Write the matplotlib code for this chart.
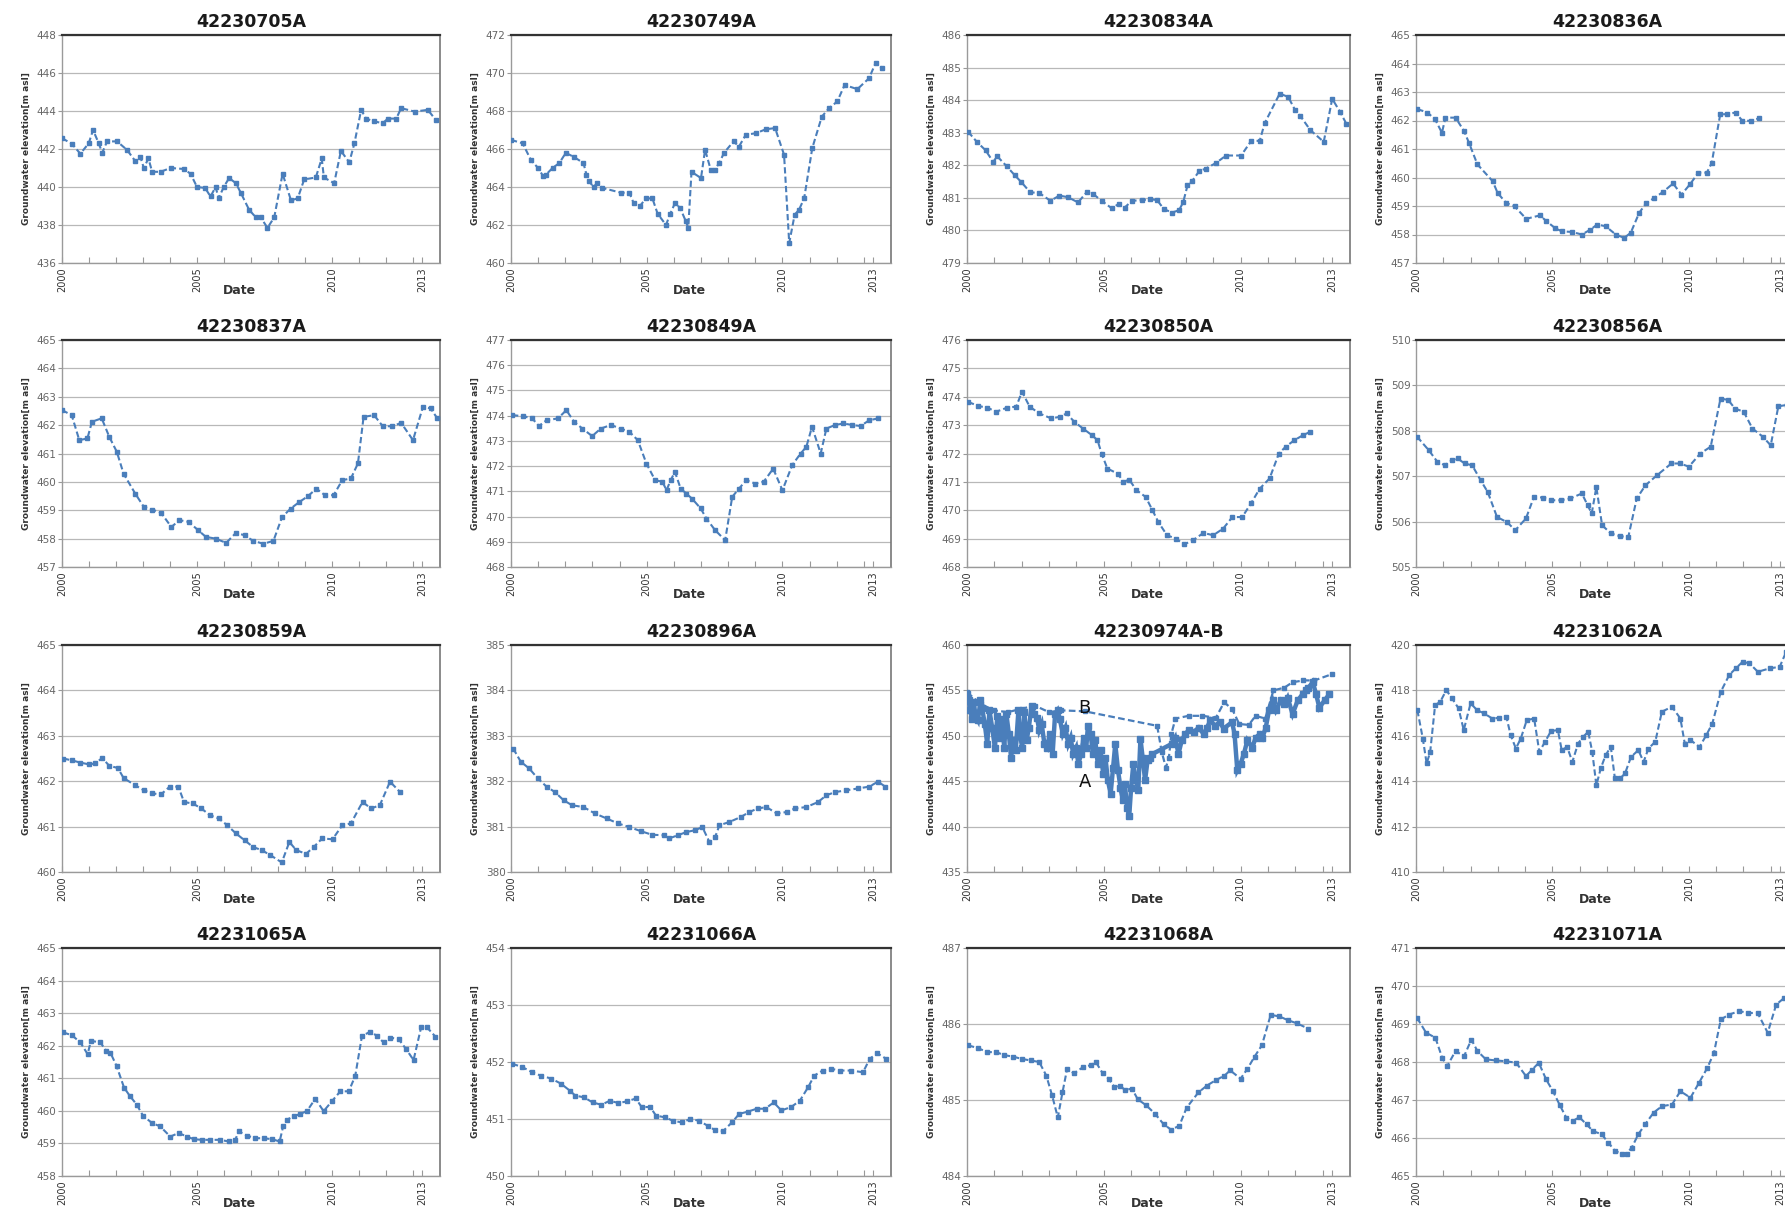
import matplotlib
matplotlib.use("Agg")
import matplotlib.pyplot as plt
from matplotlib.ticker import MultipleLocator, FixedLocator

# ---------------- data (decimal year, groundwater elevation m asl) ----------------
titles = ["42230705A", "42230749A", "42230834A", "42230836A",
          "42230837A", "42230849A", "42230850A", "42230856A",
          "42230859A", "42230896A", "42230974A-B", "42231062A",
          "42231065A", "42231066A", "42231068A", "42231071A"]

t_705 = [2000.0, 2000.37, 2000.68, 2000.99, 2001.15, 2001.36, 2001.49, 2001.67, 2002.04, 2002.41, 2002.72, 2002.9,
         2003.03, 2003.2, 2003.34, 2003.65, 2004.02, 2004.5, 2004.76, 2005.0, 2005.3, 2005.5, 2005.69, 2005.8, 2005.99,
         2006.19, 2006.44, 2006.62, 2006.93, 2007.18, 2007.36, 2007.61, 2007.86, 2008.17, 2008.48, 2008.73, 2008.97,
         2009.4, 2009.62, 2009.7, 2010.08, 2010.33, 2010.64, 2010.83, 2011.08, 2011.26, 2011.57, 2011.88, 2012.07,
         2012.38, 2012.56, 2013.06, 2013.55, 2013.86]
h_705 = [442.57, 442.27, 441.75, 442.3, 443.0, 442.3, 441.8, 442.4, 442.4, 441.95, 441.35, 441.6, 441.0, 441.5, 440.8,
         440.8, 441.0, 440.95, 440.7, 440.0, 439.95, 439.5, 440.0, 439.4, 440.0, 440.47, 440.2, 439.7, 438.8, 438.4,
         438.4, 437.85, 438.4, 440.7, 439.3, 439.4, 440.4, 440.5, 441.5, 440.5, 440.2, 441.9, 441.3, 442.3, 444.06,
         443.6, 443.45, 443.36, 443.6, 443.6, 444.15, 443.97, 444.06, 443.5]

t_749 = [2000.0, 2000.43, 2000.74, 2001.0, 2001.17, 2001.29, 2001.53, 2001.78, 2002.02, 2002.33, 2002.67, 2002.78,
         2002.88, 2003.04, 2003.17, 2003.37, 2004.05, 2004.36, 2004.52, 2004.75, 2004.97, 2005.21, 2005.4, 2005.71,
         2005.87, 2006.04, 2006.23, 2006.44, 2006.53, 2006.65, 2007.0, 2007.15, 2007.36, 2007.5, 2007.67, 2007.85,
         2008.2, 2008.4, 2008.65, 2009.02, 2009.39, 2009.73, 2010.06, 2010.25, 2010.45, 2010.61, 2010.8, 2011.1,
         2011.45, 2011.72, 2012.02, 2012.29, 2012.76, 2013.19, 2013.44, 2013.68]
h_749 = [466.48, 466.3, 465.4, 465.0, 464.6, 464.65, 465.0, 465.26, 465.8, 465.57, 465.26, 464.65, 464.3, 464.0, 464.2,
         463.95, 463.7, 463.7, 463.15, 463.0, 463.4, 463.4, 462.6, 462.0, 462.6, 463.15, 462.9, 462.2, 461.85, 464.8,
         464.47, 465.96, 464.9, 464.9, 465.26, 465.8, 466.4, 466.13, 466.75, 466.83, 467.04, 467.1, 465.7, 461.05,
         462.54, 462.8, 463.4, 466.05, 467.7, 468.15, 468.5, 469.37, 469.15, 469.72, 470.55, 470.25]

t_834 = [2000.04, 2000.36, 2000.68, 2000.96, 2001.1, 2001.45, 2001.75, 2001.99, 2002.31, 2002.64, 2003.05, 2003.38,
         2003.69, 2004.06, 2004.37, 2004.61, 2004.92, 2005.29, 2005.54, 2005.76, 2006.03, 2006.4, 2006.7, 2006.95,
         2007.2, 2007.5, 2007.75, 2007.9, 2008.06, 2008.24, 2008.49, 2008.73, 2009.1, 2009.47, 2010.02, 2010.39,
         2010.7, 2010.88, 2011.43, 2011.74, 2011.99, 2012.18, 2012.55, 2013.04, 2013.35, 2013.63, 2013.87]
h_834 = [483.03, 482.72, 482.46, 482.1, 482.28, 481.97, 481.69, 481.48, 481.17, 481.15, 480.91, 481.07, 481.02, 480.86,
         481.17, 481.12, 480.91, 480.68, 480.81, 480.7, 480.91, 480.93, 480.96, 480.93, 480.65, 480.55, 480.62, 480.86,
         481.38, 481.53, 481.82, 481.9, 482.07, 482.3, 482.3, 482.75, 482.75, 483.29, 484.2, 484.1, 483.7, 483.52,
         483.08, 482.72, 484.04, 483.65, 483.27]

t_836 = [2000.05, 2000.42, 2000.7, 2000.95, 2001.08, 2001.45, 2001.76, 2001.94, 2002.25, 2002.81, 2002.99, 2003.3,
         2003.61, 2004.04, 2004.54, 2004.78, 2005.09, 2005.34, 2005.71, 2006.08, 2006.39, 2006.64, 2006.95, 2007.32,
         2007.63, 2007.87, 2008.18, 2008.43, 2008.74, 2009.05, 2009.42, 2009.73, 2010.04, 2010.35, 2010.66, 2010.84,
         2011.15, 2011.4, 2011.71, 2011.96, 2012.27, 2012.58]
h_836 = [462.4, 462.28, 462.04, 461.57, 462.1, 462.1, 461.63, 461.22, 460.46, 459.87, 459.46, 459.11, 458.99, 458.55,
         458.67, 458.47, 458.23, 458.11, 458.09, 458.0, 458.17, 458.35, 458.29, 458.0, 457.88, 458.06, 458.76, 459.09,
         459.29, 459.49, 459.79, 459.4, 459.76, 460.17, 460.17, 460.52, 462.22, 462.22, 462.28, 461.99, 461.99, 462.08]

t_837 = [2000.0, 2000.36, 2000.64, 2000.94, 2001.11, 2001.47, 2001.75, 2002.03, 2002.28, 2002.71, 2003.03, 2003.35,
         2003.67, 2004.05, 2004.35, 2004.69, 2005.05, 2005.33, 2005.69, 2006.08, 2006.44, 2006.76, 2007.08, 2007.46,
         2007.83, 2008.15, 2008.47, 2008.79, 2009.1, 2009.42, 2009.74, 2010.06, 2010.38, 2010.7, 2010.96, 2011.17,
         2011.56, 2011.88, 2012.24, 2012.56, 2013.0, 2013.37, 2013.65, 2013.9]
h_837 = [462.53, 462.35, 461.47, 461.53, 462.12, 462.24, 461.59, 461.06, 460.29, 459.59, 459.12, 459.02, 458.91, 458.41,
         458.65, 458.59, 458.29, 458.06, 458.0, 457.85, 458.2, 458.12, 457.92, 457.82, 457.92, 458.76, 459.06, 459.29,
         459.49, 459.76, 459.53, 459.53, 460.06, 460.12, 460.65, 462.29, 462.35, 461.96, 461.96, 462.08, 461.47,
         462.65, 462.59, 462.24]

t_849 = [2000.04, 2000.46, 2000.78, 2001.03, 2001.31, 2001.73, 2002.04, 2002.32, 2002.63, 2002.99, 2003.31, 2003.68,
         2004.04, 2004.36, 2004.67, 2004.99, 2005.31, 2005.58, 2005.73, 2005.88, 2006.04, 2006.25, 2006.46, 2006.67,
         2006.99, 2007.2, 2007.52, 2007.89, 2008.15, 2008.4, 2008.67, 2008.99, 2009.31, 2009.66, 2010.0, 2010.36,
         2010.67, 2010.88, 2011.09, 2011.41, 2011.62, 2011.94, 2012.25, 2012.57, 2012.88, 2013.2, 2013.52]
h_849 = [474.02, 473.98, 473.89, 473.59, 473.82, 473.89, 474.22, 473.76, 473.49, 473.19, 473.49, 473.63, 473.49, 473.36,
         473.03, 472.1, 471.44, 471.38, 471.04, 471.44, 471.77, 471.11, 470.91, 470.71, 470.32, 469.92, 469.46, 469.06,
         470.78, 471.11, 471.44, 471.31, 471.38, 471.9, 471.04, 472.04, 472.5, 472.76, 473.56, 472.5, 473.49, 473.63,
         473.69, 473.63, 473.59, 473.82, 473.89]

t_850 = [2000.04, 2000.42, 2000.74, 2001.06, 2001.48, 2001.8, 2002.01, 2002.29, 2002.65, 2003.07, 2003.39, 2003.64,
         2003.92, 2004.24, 2004.56, 2004.77, 2004.92, 2005.13, 2005.51, 2005.72, 2005.93, 2006.19, 2006.53, 2006.78,
         2006.99, 2007.31, 2007.63, 2007.94, 2008.26, 2008.64, 2009.0, 2009.36, 2009.7, 2010.06, 2010.38, 2010.7,
         2011.06, 2011.4, 2011.65, 2011.97, 2012.29, 2012.54]
h_850 = [473.82, 473.67, 473.62, 473.47, 473.62, 473.65, 474.18, 473.65, 473.41, 473.24, 473.29, 473.41, 473.12, 472.88,
         472.65, 472.47, 472.0, 471.47, 471.29, 471.0, 471.08, 470.71, 470.47, 470.0, 469.59, 469.12, 469.0, 468.8,
         468.94, 469.2, 469.12, 469.35, 469.76, 469.76, 470.24, 470.76, 471.12, 472.0, 472.24, 472.47, 472.65, 472.76]

t_856 = [2000.04, 2000.47, 2000.78, 2001.06, 2001.31, 2001.53, 2001.78, 2002.06, 2002.37, 2002.63, 2002.97, 2003.33,
         2003.64, 2004.03, 2004.32, 2004.66, 2004.96, 2005.3, 2005.66, 2006.08, 2006.29, 2006.44, 2006.61, 2006.82,
         2007.14, 2007.46, 2007.78, 2008.09, 2008.41, 2008.83, 2009.36, 2009.68, 2010.0, 2010.42, 2010.8, 2011.16,
         2011.44, 2011.69, 2012.01, 2012.33, 2012.71, 2013.0, 2013.28, 2013.6]
h_856 = [507.87, 507.57, 507.32, 507.24, 507.35, 507.39, 507.28, 507.24, 506.91, 506.65, 506.1, 505.99, 505.81, 506.07,
         506.54, 506.53, 506.47, 506.47, 506.51, 506.62, 506.36, 506.18, 506.76, 505.92, 505.74, 505.68, 505.66, 506.51,
         506.8, 507.02, 507.28, 507.28, 507.21, 507.5, 507.65, 508.71, 508.68, 508.49, 508.42, 508.05, 507.87, 507.68,
         508.54, 508.57]

t_859 = [2000.04, 2000.36, 2000.68, 2001.0, 2001.22, 2001.49, 2001.75, 2002.07, 2002.28, 2002.71, 2003.03, 2003.35,
         2003.67, 2003.99, 2004.31, 2004.52, 2004.84, 2005.16, 2005.48, 2005.8, 2006.12, 2006.44, 2006.76, 2007.08,
         2007.4, 2007.72, 2008.14, 2008.42, 2008.68, 2009.04, 2009.32, 2009.64, 2010.02, 2010.38, 2010.7, 2011.13,
         2011.45, 2011.77, 2012.15, 2012.52]
h_859 = [462.5, 462.46, 462.41, 462.37, 462.39, 462.51, 462.34, 462.29, 462.07, 461.91, 461.8, 461.73, 461.71, 461.88,
         461.88, 461.54, 461.51, 461.4, 461.25, 461.18, 461.03, 460.85, 460.7, 460.55, 460.48, 460.37, 460.21, 460.66,
         460.48, 460.4, 460.55, 460.74, 460.72, 461.03, 461.07, 461.54, 461.4, 461.47, 461.99, 461.76]

t_896 = [2000.08, 2000.36, 2000.67, 2000.99, 2001.31, 2001.62, 2001.94, 2002.25, 2002.67, 2003.09, 2003.52, 2003.94,
         2004.36, 2004.78, 2005.2, 2005.62, 2005.83, 2006.15, 2006.46, 2006.78, 2007.05, 2007.31, 2007.52, 2007.68,
         2008.04, 2008.46, 2008.78, 2009.09, 2009.41, 2009.79, 2010.15, 2010.46, 2010.88, 2011.31, 2011.62, 2011.94,
         2012.36, 2012.78, 2013.2, 2013.52, 2013.79]
h_896 = [382.72, 382.43, 382.28, 382.06, 381.88, 381.76, 381.58, 381.47, 381.43, 381.29, 381.18, 381.07, 380.99, 380.9,
         380.82, 380.81, 380.74, 380.81, 380.88, 380.92, 380.99, 380.66, 380.77, 381.03, 381.1, 381.21, 381.32, 381.4,
         381.43, 381.29, 381.32, 381.4, 381.43, 381.54, 381.69, 381.76, 381.8, 381.84, 381.88, 381.99, 381.88]

# well 42230974, screen A (dense, solid) and screen B (dashed)
t_974A = [2000.0, 2000.06, 2000.12, 2000.18, 2000.25, 2000.31, 2000.4, 2000.49, 2000.55, 2000.65, 2000.74, 2000.82,
          2000.92, 2001.02, 2001.11, 2001.19, 2001.28, 2001.36, 2001.44, 2001.53, 2001.61, 2001.7, 2001.78, 2001.88,
          2001.93, 2002.02, 2002.09, 2002.18, 2002.26, 2002.36, 2002.46, 2002.56, 2002.64, 2002.73, 2002.83, 2002.93,
          2003.02, 2003.13, 2003.22, 2003.31, 2003.39, 2003.5, 2003.6, 2003.7, 2003.79, 2003.88, 2003.99, 2004.07,
          2004.17, 2004.26, 2004.36, 2004.42, 2004.52, 2004.6, 2004.69, 2004.78, 2004.88, 2004.98, 2005.06, 2005.15,
          2005.25, 2005.34, 2005.42, 2005.52, 2005.61, 2005.69, 2005.77, 2005.85, 2005.93, 2006.0, 2006.08, 2006.17,
          2006.26, 2006.34, 2006.42, 2006.51, 2006.6, 2006.69, 2006.78, 2007.48, 2007.61, 2007.73, 2007.85, 2007.98,
          2008.1, 2008.28, 2008.47, 2008.65, 2008.77, 2008.9, 2009.06, 2009.24, 2009.38, 2009.69, 2009.78, 2009.88,
          2010.0, 2010.12, 2010.25, 2010.43, 2010.55, 2010.71, 2010.8, 2010.92, 2011.04, 2011.17, 2011.29, 2011.47,
          2011.6, 2011.72, 2011.9, 2012.09, 2012.27, 2012.39, 2012.48, 2012.64, 2012.76, 2012.88, 2013.07, 2013.25]
h_974A = [454.6, 453.9, 452.8, 451.9, 453.7, 452.2, 451.7, 453.9, 453.1, 451.3, 449.1, 452.8, 450.9, 448.7, 452.2,
          449.8, 451.9, 448.7, 452.4, 450.2, 447.6, 449.5, 448.4, 452.8, 450.2, 448.7, 452.6, 449.5, 450.9, 453.3,
          452.4, 452.0, 450.6, 451.3, 449.1, 448.7, 450.2, 448.0, 452.4, 452.8, 451.9, 450.2, 450.9, 449.1, 449.8,
          448.0, 448.7, 446.9, 448.0, 449.8, 448.7, 451.1, 450.2, 448.0, 449.5, 446.9, 448.4, 445.8, 447.6, 445.1,
          443.6, 446.5, 449.1, 446.2, 444.3, 442.9, 444.7, 442.1, 441.2, 444.3, 446.9, 445.1, 444.0, 449.7, 447.6,
          445.1, 447.3, 447.6, 448.0, 449.1, 449.8, 448.0, 449.5, 450.2, 450.6, 450.4, 450.9, 450.2, 450.9, 451.7,
          451.1, 451.5, 450.8, 451.5, 450.2, 446.2, 446.9, 448.0, 449.5, 448.7, 449.8, 450.2, 449.8, 450.9, 452.8,
          453.9, 452.8, 453.9, 453.5, 454.2, 452.4, 453.9, 454.6, 455.0, 455.3, 455.9, 454.6, 453.1, 453.9, 454.6]
t_974B = [2000.0, 2000.5, 2001.0, 2001.5, 2002.0, 2002.5, 2003.0, 2003.45, 2004.3, 2006.95, 2007.12, 2007.27, 2007.38,
          2007.47, 2007.62, 2008.1, 2008.6, 2009.1, 2009.4, 2009.7, 2009.95, 2010.3, 2010.55, 2010.9, 2011.2, 2011.6,
          2011.9, 2012.3, 2012.7, 2013.35]
h_974B = [454.8, 453.5, 452.8, 452.6, 453.0, 453.3, 452.6, 452.8, 452.7, 451.1, 448.2, 446.5, 447.6, 450.2, 451.9,
          452.2, 452.2, 452.0, 453.7, 452.9, 451.3, 451.2, 452.2, 451.9, 455.0, 455.3, 455.9, 456.1, 456.1, 456.8]

t_1062 = [2000.05, 2000.25, 2000.39, 2000.52, 2000.7, 2000.89, 2001.11, 2001.32, 2001.56, 2001.75, 2002.0, 2002.24,
          2002.49, 2002.8, 2003.04, 2003.31, 2003.47, 2003.66, 2003.84, 2004.06, 2004.33, 2004.52, 2004.73, 2004.95,
          2005.2, 2005.34, 2005.54, 2005.73, 2005.94, 2006.13, 2006.31, 2006.46, 2006.61, 2006.77, 2006.95, 2007.14,
          2007.29, 2007.48, 2007.66, 2007.88, 2008.15, 2008.34, 2008.52, 2008.77, 2009.01, 2009.38, 2009.69, 2009.85,
          2010.06, 2010.39, 2010.64, 2010.86, 2011.17, 2011.48, 2011.72, 2011.97, 2012.22, 2012.53, 2012.96, 2013.33,
          2013.57]
h_1062 = [417.13, 415.88, 414.78, 415.29, 417.35, 417.5, 418.01, 417.65, 417.21, 416.25, 417.43, 417.13, 416.99, 416.76,
          416.79, 416.84, 416.03, 415.44, 415.88, 416.69, 416.76, 415.29, 415.74, 416.21, 416.25, 415.37, 415.51,
          414.85, 415.66, 415.96, 416.18, 415.29, 413.82, 414.56, 415.15, 415.51, 414.12, 414.12, 414.34, 415.07,
          415.37, 414.85, 415.44, 415.74, 417.06, 417.28, 416.76, 415.66, 415.81, 415.51, 416.03, 416.54, 417.94,
          418.68, 418.97, 419.26, 419.19, 418.82, 418.97, 419.04, 419.71]

t_1065 = [2000.04, 2000.37, 2000.68, 2000.95, 2001.07, 2001.42, 2001.64, 2001.79, 2002.02, 2002.3, 2002.52, 2002.77,
          2003.0, 2003.33, 2003.64, 2004.01, 2004.32, 2004.63, 2004.88, 2005.19, 2005.49, 2005.86, 2006.17, 2006.42,
          2006.54, 2006.85, 2007.16, 2007.47, 2007.78, 2008.06, 2008.19, 2008.33, 2008.58, 2008.83, 2009.07, 2009.38,
          2009.69, 2010.0, 2010.31, 2010.62, 2010.86, 2011.11, 2011.42, 2011.67, 2011.91, 2012.16, 2012.47, 2012.75,
          2013.02, 2013.3, 2013.52, 2013.83]
h_1065 = [462.41, 462.32, 462.1, 461.74, 462.15, 462.1, 461.84, 461.79, 461.38, 460.71, 460.45, 460.19, 459.85, 459.63,
          459.52, 459.21, 459.32, 459.21, 459.13, 459.11, 459.11, 459.11, 459.06, 459.11, 459.37, 459.24, 459.16,
          459.16, 459.13, 459.06, 459.52, 459.73, 459.83, 459.91, 459.99, 460.37, 459.99, 460.3, 460.6, 460.6, 461.07,
          462.3, 462.43, 462.3, 462.1, 462.25, 462.2, 461.89, 461.56, 462.56, 462.56, 462.28]

t_1066 = [2000.04, 2000.42, 2000.78, 2001.1, 2001.48, 2001.84, 2002.16, 2002.37, 2002.69, 2003.01, 2003.33, 2003.64,
          2003.96, 2004.28, 2004.6, 2004.81, 2005.13, 2005.34, 2005.66, 2005.97, 2006.29, 2006.61, 2006.93, 2007.25,
          2007.5, 2007.82, 2008.14, 2008.41, 2008.73, 2009.05, 2009.36, 2009.68, 2009.96, 2010.32, 2010.64, 2010.95,
          2011.17, 2011.48, 2011.8, 2012.12, 2012.54, 2012.97, 2013.22, 2013.5, 2013.81]
h_1066 = [451.97, 451.91, 451.82, 451.76, 451.71, 451.62, 451.5, 451.41, 451.38, 451.29, 451.25, 451.32, 451.28, 451.31,
          451.36, 451.21, 451.21, 451.06, 451.03, 450.97, 450.94, 451.0, 450.97, 450.88, 450.81, 450.79, 450.94,
          451.09, 451.13, 451.18, 451.18, 451.29, 451.15, 451.21, 451.32, 451.56, 451.76, 451.85, 451.88, 451.85,
          451.85, 451.82, 452.06, 452.15, 452.06]

t_1068 = [2000.04, 2000.42, 2000.74, 2001.06, 2001.37, 2001.69, 2002.01, 2002.33, 2002.64, 2002.9, 2003.11, 2003.32,
          2003.49, 2003.66, 2003.91, 2004.23, 2004.54, 2004.71, 2004.96, 2005.18, 2005.39, 2005.6, 2005.77, 2006.03,
          2006.24, 2006.55, 2006.87, 2007.19, 2007.46, 2007.76, 2008.03, 2008.46, 2008.77, 2009.09, 2009.41, 2009.62,
          2010.0, 2010.25, 2010.51, 2010.78, 2011.1, 2011.42, 2011.73, 2012.05, 2012.47]
h_1068 = [485.72, 485.68, 485.63, 485.63, 485.59, 485.57, 485.54, 485.52, 485.5, 485.32, 485.06, 484.77, 485.1, 485.41,
          485.35, 485.43, 485.46, 485.5, 485.35, 485.28, 485.17, 485.19, 485.13, 485.15, 485.01, 484.93, 484.82,
          484.68, 484.61, 484.66, 484.9, 485.1, 485.19, 485.26, 485.32, 485.39, 485.28, 485.41, 485.57, 485.72, 486.12,
          486.1, 486.05, 486.01, 485.94]

t_1071 = [2000.04, 2000.37, 2000.71, 2000.96, 2001.14, 2001.45, 2001.76, 2002.03, 2002.25, 2002.56, 2002.93, 2003.3,
          2003.67, 2004.03, 2004.26, 2004.5, 2004.77, 2005.02, 2005.26, 2005.51, 2005.76, 2005.98, 2006.25, 2006.49,
          2006.8, 2007.05, 2007.29, 2007.54, 2007.72, 2007.91, 2008.15, 2008.4, 2008.71, 2009.02, 2009.38, 2009.69,
          2010.06, 2010.37, 2010.68, 2010.92, 2011.17, 2011.48, 2011.85, 2012.16, 2012.52, 2012.89, 2013.2, 2013.5]
h_1071 = [469.16, 468.77, 468.64, 468.11, 467.89, 468.29, 468.15, 468.59, 468.29, 468.07, 468.04, 468.02, 467.98,
          467.63, 467.8, 467.98, 467.54, 467.23, 466.88, 466.53, 466.45, 466.55, 466.36, 466.18, 466.1, 465.88, 465.66,
          465.59, 465.59, 465.75, 466.1, 466.36, 466.67, 466.84, 466.88, 467.23, 467.06, 467.45, 467.85, 468.24,
          469.12, 469.25, 469.34, 469.29, 469.29, 468.77, 469.51, 469.69]

# y-axis ranges [min, max, step] per panel
y_ranges = [(436, 448, 2), (460, 472, 2), (479, 486, 1), (457, 465, 1),
            (457, 465, 1), (468, 477, 1), (468, 476, 1), (505, 510, 1),
            (460, 465, 1), (380, 385, 1), (435, 460, 5), (410, 420, 2),
            (458, 465, 1), (450, 454, 1), (484, 487, 1), (465, 471, 1)]

x_ticks = [2000, 2005, 2010, 2013.35]
x_ticklabels = ["2000", "2005", "2010", "2013"]
ylabel = "Groundwater elevation[m asl]"

series = [(t_705, h_705), (t_749, h_749), (t_834, h_834), (t_836, h_836),
          (t_837, h_837), (t_849, h_849), (t_850, h_850), (t_856, h_856),
          (t_859, h_859), (t_896, h_896), None, (t_1062, h_1062),
          (t_1065, h_1065), (t_1066, h_1066), (t_1068, h_1068), (t_1071, h_1071)]

# ---------------- layout ----------------
W, H = 1785, 1211
rows = [(35, 263), (340, 567), (645, 872), (948, 1176)]
cols = [(62, 440), (511, 891), (967, 1350), (1416, 1798)]
blue = "#4a7ebb"

fig = plt.figure(figsize=(W / 100, H / 100), dpi=100)
fig.patch.set_facecolor("white")

for i, title in enumerate(titles):
    r, c = divmod(i, 4)
    top, bot = rows[r]
    left, right = cols[c]
    ax = fig.add_axes([left / W, 1 - bot / H, (right - left) / W, (bot - top) / H])
    ymin, ymax, ystep = y_ranges[i]
    ax.set_xlim(2000, 2014.0)
    ax.set_ylim(ymin, ymax)
    ax.yaxis.set_major_locator(MultipleLocator(ystep))
    ax.xaxis.set_major_locator(FixedLocator(x_ticks))
    ax.set_xticklabels(x_ticklabels, rotation=90, fontsize=7, color="#333333")
    ax.xaxis.set_minor_locator(FixedLocator(list(range(2001, 2014))))
    ax.tick_params(axis="x", which="both", direction="in", length=4, width=0.8, color="#999999", pad=3)
    ax.tick_params(axis="y", which="major", direction="out", length=3, width=0.8, color="#999999",
                   labelsize=7.5, labelcolor="#666666", pad=1)
    ax.yaxis.grid(True, color="#b8b8b8", linewidth=0.9)
    ax.set_axisbelow(True)
    for side in ("left", "bottom"):
        ax.spines[side].set_color("#9a9a9a")
        ax.spines[side].set_linewidth(1.0)
    ax.spines["top"].set_color("#333333")
    ax.spines["top"].set_linewidth(1.6)
    ax.spines["right"].set_color("#777777")
    ax.spines["right"].set_linewidth(1.2)

    ax.set_title(title, fontsize=12.5, fontweight="bold", pad=6, color="#1a1a1a")
    ax.set_ylabel(ylabel, fontsize=6.5, fontweight="bold", color="#333333", labelpad=4)
    ax.text(0.47, -0.12, "Date", transform=ax.transAxes, ha="center", va="center",
            fontsize=9, fontweight="bold", color="#333333")

    if series[i] is None:
        ax.plot(t_974A, h_974A, color=blue, lw=3.2, marker="s", ms=4.2, solid_joinstyle="miter", zorder=3)
        ax.plot(t_974B, h_974B, color=blue, lw=1.6, ls=(0, (3, 1.5)), marker="s", ms=3.5, zorder=3)
        ax.text(2004.3, 453.1, "B", fontsize=13, ha="center", va="center", color="#111111", zorder=4)
        ax.text(2004.3, 444.9, "A", fontsize=13, ha="center", va="center", color="#111111", zorder=4)
    else:
        t, h = series[i]
        ax.plot(t, h, color=blue, lw=1.5, ls=(0, (3, 1.5)), marker="s", ms=3, zorder=3)

fig.savefig("out.png", dpi=100, facecolor="white")
